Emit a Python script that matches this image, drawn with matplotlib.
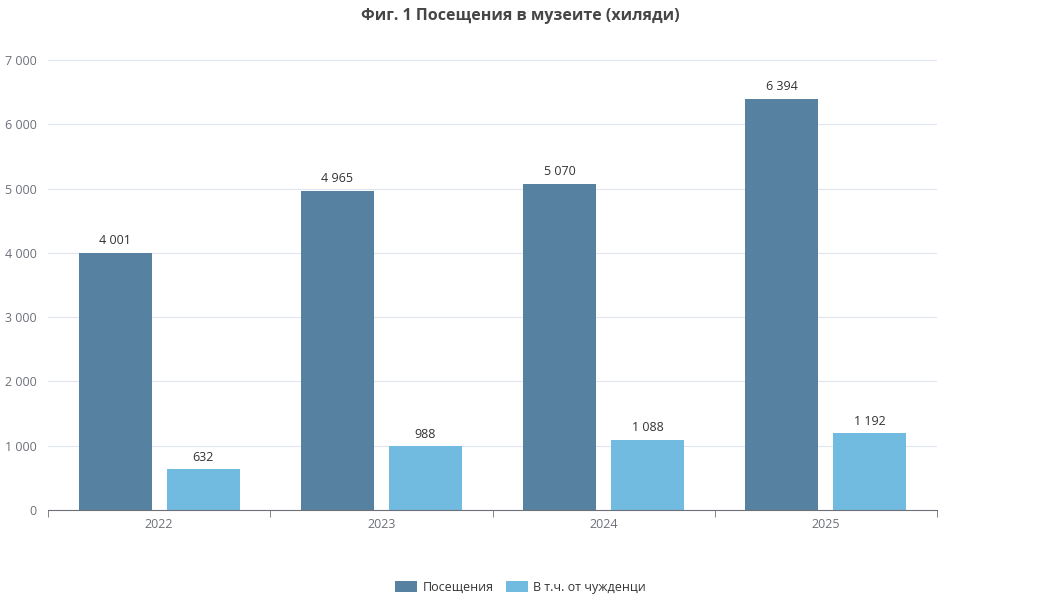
import matplotlib
matplotlib.use("Agg")
import matplotlib.pyplot as plt
import numpy as np

years = ["2022", "2023", "2024", "2025"]
visits = [4001, 4965, 5070, 6394]
foreign = [632, 988, 1088, 1192]
series_names = ["Посещения", "В т.ч. от чужденци"]
title = "Фиг. 1 Посещения в музеите (хиляди)"

def fmt(v):
    return f"{v:,}".replace(",", " ")

plt.rcParams['font.family'] = ['Open Sans', 'DejaVu Sans']
fig = plt.figure(figsize=(10.41, 6), dpi=100)
ax = fig.add_axes([48/1041, 90/600, (937-48)/1041, 450/600])
x = np.arange(len(years))
w = 0.329
c1, c2 = "#5681a0", "#72bbe0"
b1 = ax.bar(x - 0.198, visits, w, color=c1, label=series_names[0])
b2 = ax.bar(x + 0.198, foreign, w, color=c2, label=series_names[1])
for bars, vals in ((b1, visits), (b2, foreign)):
    for b, v in zip(bars, vals):
        ax.text(b.get_x() + b.get_width()/2, v + 90, fmt(v), ha="center", va="bottom", fontsize=9, color="#333333")
ax.set_xlim(-0.5, 3.5)
ax.set_ylim(0, 7000)
ax.set_yticks(range(0, 7001, 1000))
ax.set_yticklabels([fmt(v) for v in range(0, 7001, 1000)], fontsize=9, color="#6e7079")
ax.set_xticks(x)
ax.set_xticklabels(years, fontsize=9, color="#6e7079")
ax.set_xticks(np.arange(-0.5, 3.6, 1), minor=True)
ax.tick_params(axis="x", which="major", length=0, pad=6)
ax.tick_params(axis="x", which="minor", length=5, color="#6e7079")
ax.tick_params(axis="y", length=0, pad=8)
ax.grid(axis="y", color="#e0e6f1", linewidth=0.8)
ax.set_axisbelow(True)
for s in ("top", "right", "left"):
    ax.spines[s].set_visible(False)
ax.spines["bottom"].set_color("#6e7079")
fig.text(0.5, 1 - 16/600, title, ha="center", va="center", fontsize=11.5, fontweight="bold", color="#464646")
fig.legend(loc="center", bbox_to_anchor=(0.5, 1 - 587/600), ncol=2, frameon=False, fontsize=9,
           handlelength=1.8, handleheight=1.0, columnspacing=1.0, handletextpad=0.4, labelcolor="#333333")
fig.savefig("out.png", dpi=100)
